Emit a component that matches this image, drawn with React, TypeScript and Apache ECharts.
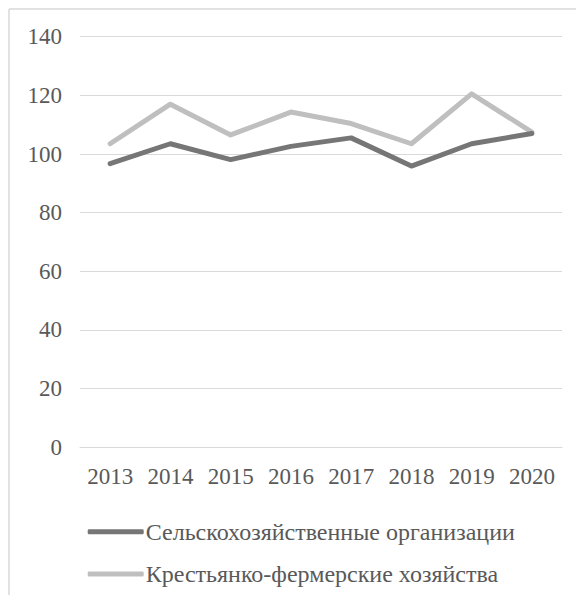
import React, { useEffect, useRef } from "react";
import * as echarts from "echarts";

const years = ["2013", "2014", "2015", "2016", "2017", "2018", "2019", "2020"];
const agriOrgs = [96.7, 103.5, 98.1, 102.6, 105.5, 95.9, 103.5, 107];
const farms = [103.5, 117, 106.5, 114.3, 110.4, 103.5, 120.5, 107.5];
const seriesNames = ["Сельскохозяйственные организации", "Крестьянко-фермерские хозяйства"];
const yMin = 0;
const yMax = 140;
const yStep = 20;

const FONT = "'Liberation Serif', 'Times New Roman', serif";
const TEXT = "#595959";
const GRID = "#d9d9d9";

export default function App() {
  const ref = useRef<HTMLDivElement>(null);
  useEffect(() => {
    if (!ref.current) return;
    const chart = echarts.init(ref.current, undefined, { renderer: "svg" });
    chart.setOption({
      animation: false,
      graphic: [
        { type: "line", shape: { x1: 1, y1: 1, x2: 576, y2: 1 }, style: { stroke: GRID, lineWidth: 1.5 } },
        { type: "line", shape: { x1: 1, y1: 1, x2: 1, y2: 587 }, style: { stroke: GRID, lineWidth: 1.5 } },
      ],
      grid: { left: 72, right: 22, top: 28.7, bottom: 147.7, containLabel: false },
      xAxis: {
        type: "category",
        data: years,
        boundaryGap: true,
        axisLine: { show: true, lineStyle: { color: GRID, width: 1 } },
        axisTick: { show: false },
        axisLabel: { color: TEXT, fontFamily: FONT, fontSize: 23, margin: 18 },
      },
      yAxis: {
        type: "value",
        min: yMin,
        max: yMax,
        interval: yStep,
        axisLine: { show: false },
        axisTick: { show: false },
        splitLine: { lineStyle: { color: GRID, width: 1 } },
        axisLabel: { color: TEXT, fontFamily: FONT, fontSize: 23, margin: 18 },
      },
      legend: {
        orient: "vertical",
        left: 74.7,
        top: 506.7,
        itemWidth: 56,
        itemHeight: 5,
        itemGap: 18.3,
        icon: "roundRect",
        data: seriesNames,
        textStyle: { color: TEXT, fontFamily: FONT, fontSize: 24, lineHeight: 24, padding: [0, 0, 0, -3] },
      },
      series: [
        {
          name: seriesNames[0],
          type: "line",
          data: agriOrgs,
          symbol: "none",
          lineStyle: { color: "#767676", width: 5, cap: "round", join: "round" },
          itemStyle: { color: "#767676" },
          z: 3,
        },
        {
          name: seriesNames[1],
          type: "line",
          data: farms,
          symbol: "none",
          lineStyle: { color: "#bfbfbf", width: 5, cap: "round", join: "round" },
          itemStyle: { color: "#bfbfbf" },
          z: 2,
        },
      ],
    });
    return () => chart.dispose();
  }, []);
  return <div ref={ref} style={{ width: 576, height: 587 }} />;
}
